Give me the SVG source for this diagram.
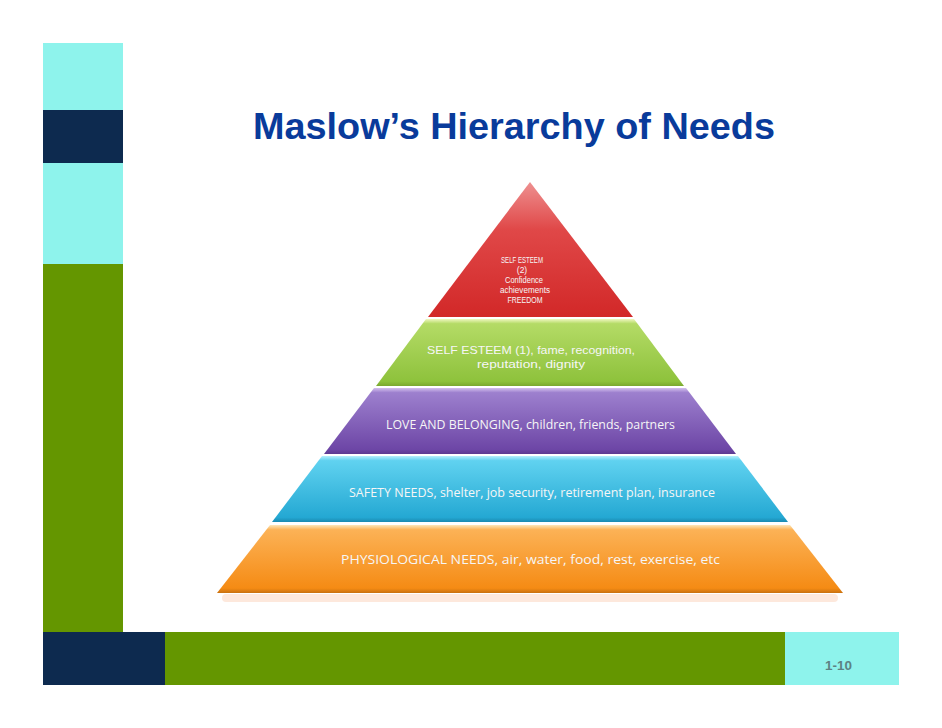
<svg xmlns="http://www.w3.org/2000/svg" width="942" height="728" viewBox="0 0 942 728">
<defs>
<linearGradient id="gRed" x1="0" y1="0" x2="0" y2="1">
<stop offset="0" stop-color="#ee9090"/><stop offset="0.35" stop-color="#e04848"/><stop offset="1" stop-color="#d22828"/>
</linearGradient>
<linearGradient id="gGreen" x1="0" y1="0" x2="0" y2="1">
<stop offset="0" stop-color="#f0f7c0"/><stop offset="0.07" stop-color="#b4db66"/><stop offset="0.93" stop-color="#8ec23c"/><stop offset="1" stop-color="#7aa830"/>
</linearGradient>
<linearGradient id="gPurple" x1="0" y1="0" x2="0" y2="1">
<stop offset="0" stop-color="#d4c0ee"/><stop offset="0.07" stop-color="#9d80ce"/><stop offset="0.93" stop-color="#6d46a6"/><stop offset="1" stop-color="#5c3a90"/>
</linearGradient>
<linearGradient id="gCyan" x1="0" y1="0" x2="0" y2="1">
<stop offset="0" stop-color="#b6f0fc"/><stop offset="0.07" stop-color="#60d2f0"/><stop offset="0.93" stop-color="#24a8d3"/><stop offset="1" stop-color="#1a8ab0"/>
</linearGradient>
<linearGradient id="gOrange" x1="0" y1="0" x2="0" y2="1">
<stop offset="0" stop-color="#fde6b8"/><stop offset="0.07" stop-color="#fcb256"/><stop offset="0.93" stop-color="#f58b14"/><stop offset="1" stop-color="#c8700e"/>
</linearGradient>
<style>
.cy{fill:#8ef3ec}.nv{fill:#0d2a4f}.gr{fill:#649600}
.title{font-family:"Liberation Sans",Arial,sans-serif;font-weight:bold;font-size:37px;fill:#093b9b}
.lbl{font-family:"Open Sans","Liberation Sans",sans-serif;font-size:12px;fill:#f6f6f6;text-anchor:middle}
.lbl2{font-family:"Liberation Sans",Arial,sans-serif;font-size:11.5px;fill:#f6f6f6;text-anchor:middle}
.sm{font-family:"Liberation Sans",Arial,sans-serif;font-size:8.5px;fill:#f6f6f6;text-anchor:middle}
.pg{font-family:"Liberation Sans",Arial,sans-serif;font-weight:bold;font-size:13px;fill:#5d8283}
</style>
</defs>
<rect width="942" height="728" fill="#ffffff"/>
<g id="frame">
<rect class="cy" x="43" y="43" width="80" height="67"/>
<rect class="nv" x="43" y="110" width="80" height="53"/>
<rect class="cy" x="43" y="163" width="80" height="101"/>
<rect class="gr" x="43" y="264" width="80" height="368"/>
<rect class="nv" x="43" y="632" width="122" height="53"/>
<rect class="gr" x="165" y="632" width="620" height="53"/>
<rect class="cy" x="785" y="632" width="114" height="53"/>
<text class="pg" x="838.5" y="670" text-anchor="middle" textLength="27" lengthAdjust="spacingAndGlyphs">1-10</text>
</g>
<text id="title" class="title" x="253" y="139" textLength="522" lengthAdjust="spacingAndGlyphs">Maslow’s Hierarchy of Needs</text>
<g id="connectors"/>
<g id="reflection">
<rect x="222" y="594" width="616" height="8" rx="4" fill="#fde8dc"/>
</g>
<g id="tier-self-esteem-2">
<polygon points="530,182 428,317 633,317" fill="url(#gRed)"/>
<text class="sm" x="522" y="263" textLength="42" lengthAdjust="spacingAndGlyphs">SELF ESTEEM</text>
<text class="sm" x="522" y="273">(2)</text>
<text class="sm" x="524" y="283" textLength="38" lengthAdjust="spacingAndGlyphs">Confidence</text>
<text class="sm" x="525" y="293" textLength="50" lengthAdjust="spacingAndGlyphs">achievements</text>
<text class="sm" x="525" y="303" textLength="35" lengthAdjust="spacingAndGlyphs">FREEDOM</text>
</g>
<g id="tier-self-esteem-1">
<polygon points="426,319 634,319 684,386 376,386" fill="url(#gGreen)"/>
<text class="lbl2" x="531" y="354" textLength="208" lengthAdjust="spacingAndGlyphs">SELF ESTEEM (1), fame, recognition,</text>
<text class="lbl2" x="531" y="368" textLength="108" lengthAdjust="spacingAndGlyphs">reputation, dignity</text>
</g>
<g id="tier-love">
<polygon points="374,388 686,388 736,454 324,454" fill="url(#gPurple)"/>
<text class="lbl" x="530.5" y="429" textLength="289" lengthAdjust="spacingAndGlyphs">LOVE AND BELONGING, children, friends, partners</text>
</g>
<g id="tier-safety">
<polygon points="322,456 738,456 788,522 272,522" fill="url(#gCyan)"/>
<text class="lbl" x="532" y="497" textLength="366" lengthAdjust="spacingAndGlyphs">SAFETY NEEDS, shelter, job security, retirement plan, insurance</text>
</g>
<g id="tier-physiological">
<polygon points="270,525 790,525 843,593 217,593" fill="url(#gOrange)"/>
<text class="lbl" x="530.5" y="564" font-size="12.5" textLength="379" lengthAdjust="spacingAndGlyphs">PHYSIOLOGICAL NEEDS, air, water, food, rest, exercise, etc</text>
</g>
</svg>
